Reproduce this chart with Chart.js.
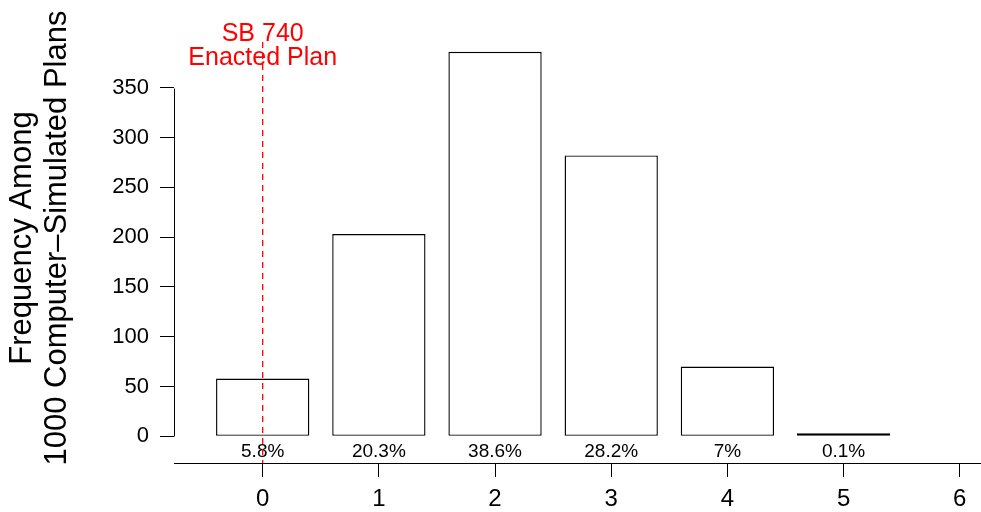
<!DOCTYPE html>
<html>
<head>
<meta charset="utf-8">
<script src="https://cdn.jsdelivr.net/npm/chart.js@4/dist/chart.umd.min.js"></script>
<style>
  html, body { margin: 0; padding: 0; background: #fff; }
  canvas { display: block; }
</style>
</head>
<body>
<canvas id="c" width="981" height="512"></canvas>
<script>
// ---- data ----
const categories = [0, 1, 2, 3, 4, 5];
const frequencies = [58, 203, 386, 282, 70, 1];
const percentLabels = ['5.8%', '20.3%', '38.6%', '28.2%', '7%', '0.1%'];
const xTicks = [0, 1, 2, 3, 4, 5, 6];
const yTicks = [0, 50, 100, 150, 200, 250, 300, 350];
const enactedValue = 0;
const enactedLabel = ['SB 740', 'Enacted Plan'];
const yTitle = ['Frequency Among', '1000 Computer\u2013Simulated Plans'];

const FONT = "'Liberation Sans', Arial, Helvetica, sans-serif";

function noPad(s) {
  s.paddingTop = 0; s.paddingBottom = 0; s.paddingLeft = 0; s.paddingRight = 0;
}

const overlay = {
  id: 'overlay',
  beforeDatasetsDraw(chart) {
    const { ctx, scales: { x, y }, chartArea } = chart;
    ctx.save();
    ctx.strokeStyle = '#000';
    ctx.lineWidth = 1;
    const ax = Math.round(chartArea.left) + 0.5;
    ctx.beginPath();
    ctx.moveTo(ax, Math.round(y.getPixelForValue(yTicks[0])) + 0.5);
    ctx.lineTo(ax, Math.round(y.getPixelForValue(yTicks[yTicks.length - 1])) + 0.5);
    ctx.stroke();
    ctx.restore();
  },
  afterDatasetsDraw(chart) {
    const { ctx, scales: { x, y }, chartArea } = chart;
    ctx.save();
    ctx.fillStyle = '#000';
    ctx.font = '19px ' + FONT;
    ctx.textAlign = 'center';
    ctx.textBaseline = 'middle';
    categories.forEach((c, i) => {
      ctx.fillText(percentLabels[i], x.getPixelForValue(c), y.getPixelForValue(-15.5));
    });
    const ex = x.getPixelForValue(enactedValue);
    ctx.strokeStyle = '#ff0000';
    ctx.lineWidth = 1.3;
    ctx.setLineDash([6, 5]);
    ctx.beginPath();
    ctx.moveTo(ex, y.getPixelForValue(396));
    ctx.lineTo(ex, chartArea.bottom);
    ctx.stroke();
    ctx.setLineDash([]);
    ctx.fillStyle = '#ff0000';
    ctx.font = '25px ' + FONT;
    ctx.fillText(enactedLabel[0], ex, y.getPixelForValue(404));
    ctx.fillText(enactedLabel[1], ex, y.getPixelForValue(379.5));
    ctx.restore();
  }
};

new Chart(document.getElementById('c'), {
  type: 'bar',
  data: {
    datasets: [{
      data: categories.map((c, i) => ({ x: c, y: frequencies[i] })),
      backgroundColor: '#ffffff',
      borderColor: '#000000',
      borderWidth: 1.4,
      borderSkipped: false,
      minBarLength: 3,
      categoryPercentage: 1,
      barPercentage: 0.803
    }]
  },
  options: {
    responsive: false,
    devicePixelRatio: 1,
    animation: false,
    layout: { padding: { top: 13, right: 0, bottom: 0, left: 0 } },
    plugins: { legend: { display: false }, tooltip: { enabled: false } },
    scales: {
      x: {
        type: 'linear',
        min: -0.7635,
        max: 6.183,
        offset: false,
        afterBuildTicks: s => { s.ticks = xTicks.map(v => ({ value: v })); },
        afterFit: s => { s.height = 49; noPad(s); },
        grid: { display: true, offset: false, drawOnChartArea: false, drawTicks: true, tickLength: 14, color: '#000', lineWidth: 1 },
        border: { display: true, color: '#000', width: 1 },
        ticks: { color: '#000', font: { family: FONT, size: 24 }, padding: 8, maxRotation: 0, autoSkip: false, callback: v => String(v) }
      },
      y: {
        type: 'linear',
        min: -26.8,
        max: 425,
        afterBuildTicks: s => { s.ticks = yTicks.map(v => ({ value: v })); },
        afterFit: s => { s.width = 174; noPad(s); },
        grid: { display: true, drawOnChartArea: false, drawTicks: true, tickLength: 14, color: '#000', lineWidth: 1 },
        border: { display: false },
        ticks: { color: '#000', font: { family: FONT, size: 22 }, padding: 11, autoSkip: false, callback: v => String(v) },
        title: {
          display: true,
          text: yTitle,
          color: '#000',
          font: { family: FONT, size: 31, lineHeight: 1.13 },
          padding: { top: 5, bottom: 0 }
        }
      }
    }
  },
  plugins: [overlay]
});
</script>
</body>
</html>
